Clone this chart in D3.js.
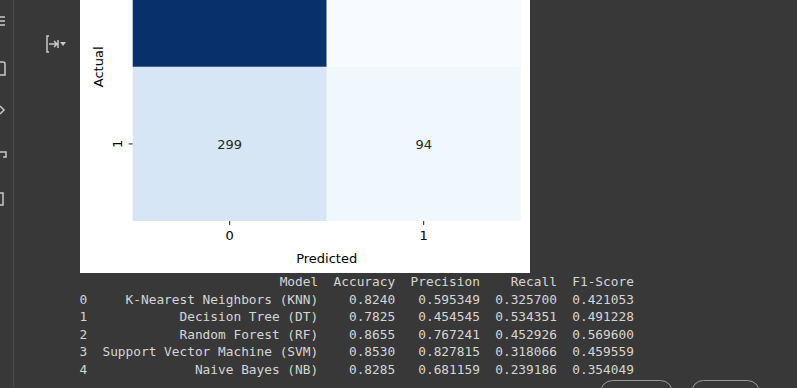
<!DOCTYPE html>
<html>
<head>
<meta charset="utf-8">
<title>Confusion matrix + model scores</title>
<style>
  html, body { margin: 0; padding: 0; background: #383838; }
  svg { display: block; }
  .tick-label, .annot, .axis-title { font-family: "DejaVu Sans", sans-serif; font-size: 13px; }
  .df text { font-family: "DejaVu Sans Mono", monospace; font-size: 12.8px; fill: #d6d6d6; }
</style>
</head>
<body>
<svg id="svg" width="797" height="388"></svg>
<script src="https://cdn.jsdelivr.net/npm/d3@7"></script>
<script>
// confusion matrix (rows = actual, cols = predicted)
const classes = ['0', '1']
const matrix = [[1563, 44], [299, 94]]

// results dataframe
const columns = ['Model', 'Accuracy', 'Precision', 'Recall', 'F1-Score']
const models = ['K-Nearest Neighbors (KNN)', 'Decision Tree (DT)', 'Random Forest (RF)',
  'Support Vector Machine (SVM)', 'Naive Bayes (NB)']
const accuracy = [0.8240, 0.7825, 0.8655, 0.8530, 0.8285]
const precision = [0.595349, 0.454545, 0.767241, 0.827815, 0.681159]
const recall = [0.325700, 0.534351, 0.452926, 0.318066, 0.239186]
const f1 = [0.421053, 0.491228, 0.569600, 0.459559, 0.354049]

const svg = d3.select('#svg')

// --- notebook chrome (sidebar, output icon, buttons) ---
svg.append('line').attr('x1', 13.5).attr('x2', 13.5).attr('y1', 0).attr('y2', 388)
  .attr('stroke', '#4d4d4d')
const chrome = svg.append('g').attr('fill', 'none').attr('stroke', '#c8c8c8').attr('stroke-width', 1.5)
chrome.append('path').attr('d', 'M0,17H5M0,21H5M0,25H5')
chrome.append('path').attr('d', 'M0,62H3Q5,62 5,64V75H0')
chrome.append('path').attr('d', 'M0,106L4,110L0,114')
chrome.append('path').attr('d', 'M0,152H6V157H3')
chrome.append('path').attr('d', 'M0,193H3V205H0')
// collapse-output icon
chrome.append('path').attr('d', 'M49,36H47V52H49M49,44H57M54,41L57,44L54,47M58,40V48')
svg.append('path').attr('d', 'M60,42H66L63,46Z').attr('fill', '#c8c8c8')
// buttons peeking at bottom right
chrome.append('rect').attr('x', 600.5).attr('y', 380.5).attr('width', 72).attr('height', 30).attr('rx', 12)
  .attr('stroke', '#9a9a9a').attr('stroke-width', 1)
chrome.append('rect').attr('x', 691.5).attr('y', 380.5).attr('width', 68).attr('height', 30).attr('rx', 12)
  .attr('stroke', '#9a9a9a').attr('stroke-width', 1)

// --- heatmap figure (its top is scrolled out of view) ---
svg.append('rect').attr('x', 80).attr('y', 0).attr('width', 450).attr('height', 273).attr('fill', '#fff')

const hm = { left: 132.7, right: 520.7, top: -87.3, bottom: 221 }
const x = d3.scaleBand().domain(classes).range([hm.left, hm.right])
const y = d3.scaleBand().domain(classes).range([hm.top, hm.bottom])
const inView = c => y(c) + y.bandwidth() / 2 > 0   // labels of the scrolled-off row aren't visible

const flat = matrix.flatMap((row, i) => row.map((v, j) => ({ actual: classes[i], pred: classes[j], v })))
const [lo, hi] = d3.extent(flat, d => d.v)
// matplotlib "Blues": linear between the 9 brewer stops
const color = d3.scaleLinear()
  .domain(d3.range(9).map(i => lo + i * (hi - lo) / 8))
  .range(d3.schemeBlues[9])

const fig = svg.append('g')
fig.selectAll('rect.cell').data(flat).join('rect')
  .attr('class', 'cell')
  .attr('x', d => x(d.pred)).attr('y', d => y(d.actual))
  .attr('width', x.bandwidth()).attr('height', y.bandwidth())
  .attr('fill', d => color(d.v))

fig.selectAll('text.annot').data(flat.filter(d => inView(d.actual))).join('text')
  .attr('class', 'annot')
  .attr('x', d => x(d.pred) + x.bandwidth() / 2)
  .attr('y', d => y(d.actual) + y.bandwidth() / 2)
  .attr('dy', '0.36em')
  .attr('text-anchor', 'middle')
  .attr('fill', d => (d.v - lo) / (hi - lo) > 0.5 ? '#ffffff' : '#262626')
  .text(d => d.v)

// axes
const xAxis = fig.append('g').attr('transform', `translate(0,${hm.bottom})`)
  .call(d3.axisBottom(x).tickSize(4).tickPadding(6))
xAxis.select('.domain').remove()
xAxis.selectAll('text').attr('class', 'tick-label').attr('fill', '#000').style('font-size', '13px')
  .style('font-family', '"DejaVu Sans", sans-serif')
xAxis.selectAll('line').attr('stroke', '#000').attr('stroke-width', 0.9)

const yAxis = fig.append('g').attr('transform', `translate(${hm.left},0)`)
  .call(d3.axisLeft(y).tickValues(classes.filter(inView)).tickSize(4).tickPadding(6))
yAxis.select('.domain').remove()
yAxis.selectAll('line').attr('stroke', '#000').attr('stroke-width', 0.9)
yAxis.selectAll('text').attr('class', 'tick-label').attr('fill', '#000')
  .style('font-size', '13px').style('font-family', '"DejaVu Sans", sans-serif')
  .attr('x', null).attr('dy', null)
  .attr('text-anchor', 'middle')
  .attr('transform', 'translate(-11,0) rotate(-90)')

fig.append('text').attr('class', 'axis-title')
  .attr('x', (hm.left + hm.right) / 2).attr('y', 262.5)
  .attr('text-anchor', 'middle').attr('fill', '#000').text('Predicted')
fig.append('text').attr('class', 'axis-title')
  .attr('transform', `translate(103,${(hm.top + hm.bottom) / 2}) rotate(-90)`)
  .attr('text-anchor', 'middle').attr('fill', '#000').text('Actual')

// --- printed dataframe ---
const cw = 7.7, x0 = 79.5, lh = 17.6, headY = 286
const widths = [1, 28, 8, 9, 8, 8]   // index, then each column (chars)
const rightEdge = []
let pos = 0
widths.forEach((w, i) => { pos += (i === 0 ? 0 : 2) + w; rightEdge.push(x0 + pos * cw) })

const f4 = d3.format('.4f'), f6 = d3.format('.6f')
const rows = models.map((m, i) => [String(i), m, f4(accuracy[i]), f6(precision[i]), f6(recall[i]), f6(f1[i])])

const df = svg.append('g').attr('class', 'df')
df.selectAll('text.head').data(columns).join('text')
  .attr('class', 'head')
  .attr('x', (d, i) => rightEdge[i + 1]).attr('y', headY)
  .attr('text-anchor', 'end').text(d => d)

rows.forEach((r, ri) => {
  df.selectAll(`text.r${ri}`).data(r).join('text')
    .attr('class', `r${ri}`)
    .attr('x', (d, i) => i === 0 ? x0 : rightEdge[i])
    .attr('y', headY + (ri + 1) * lh)
    .attr('text-anchor', (d, i) => i === 0 ? 'start' : 'end')
    .text(d => d)
})
</script>
</body>
</html>
